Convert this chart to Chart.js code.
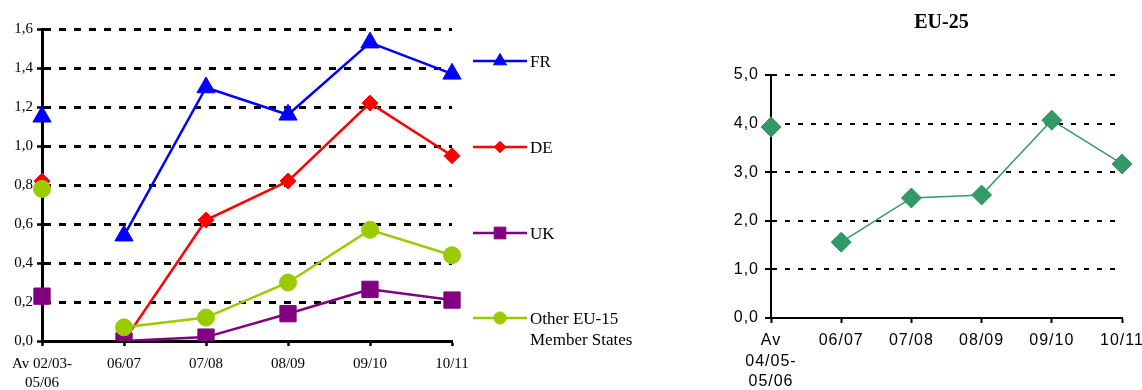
<!DOCTYPE html>
<html>
<head>
<meta charset="utf-8">
<script src="https://cdn.jsdelivr.net/npm/chart.js@4.4.0/dist/chart.umd.min.js"></script>
<style>
  html, body { margin: 0; padding: 0; background: #fff; overflow: hidden; width: 1142px; height: 390px; }
  #left  { position: absolute; left: 0;     top: 0; width: 660px; height: 390px; }
  #right { position: absolute; left: 700px; top: 0; width: 480px; height: 390px; }
</style>
</head>
<body>
<div id="left"><canvas id="byCountry"></canvas></div>
<div id="right"><canvas id="eu25"></canvas></div>
<script>
// Seasons shown on the country chart
const seasons = [['Av 02/03-', '05/06'], '06/07', '07/08', '08/09', '09/10', '10/11'];
// Series values per country (first value is the multi-season average)
const frValues    = [1.15, 0.54, 1.30, 1.16, 1.53, 1.37];
const deValues    = [0.82, 0.00, 0.62, 0.82, 1.22, 0.95];
const ukValues    = [0.23, 0.00, 0.02, 0.14, 0.265, 0.21];
const otherValues = [0.78, 0.07, 0.12, 0.30, 0.57, 0.44];
const seriesNames = ['FR', 'DE', 'UK', ['Other EU-15', 'Member States']];
const countryTickLabels = ['0,0', '0,2', '0,4', '0,6', '0,8', '1,0', '1,2', '1,4', '1,6'];

// EU-25 totals
const eu25Seasons = [['Av', '04/05-', '05/06'], '06/07', '07/08', '08/09', '09/10', '10/11'];
const eu25Values  = [3.93, 1.56, 2.47, 2.53, 4.07, 3.17];
const eu25TickLabels = ['0,0', '1,0', '2,0', '3,0', '4,0', '5,0'];
const eu25Title = 'EU-25';

const SERIF = '"Liberation Serif", "Times New Roman", serif';
const SANS  = '"Liberation Sans", Arial, sans-serif';

// the average point stands apart: no line into the first season
const skipFirst = { borderColor: ctx => ctx.p0DataIndex === 0 ? 'rgba(0,0,0,0)' : undefined };

function makeSeries(label, data, color, style, radius, width, order) {
  return {
    label, data, order,
    borderColor: color, backgroundColor: color,
    pointBackgroundColor: color, pointBorderColor: color,
    pointStyle: style, pointRadius: radius, pointBorderWidth: 1,
    borderWidth: width, tension: 0, segment: skipFirst
  };
}

function markPoint(ctx, style, radius, x, y) {
  if (window.Chart && Chart.helpers && Chart.helpers.drawPoint) {
    Chart.helpers.drawPoint(ctx, { pointStyle: style, radius, rotation: 0, borderWidth: 1 }, x, y);
    return;
  }
  ctx.beginPath();
  if (style === 'circle') ctx.arc(x, y, radius, 0, Math.PI * 2);
  else if (style === 'rect') { const s = radius * Math.SQRT1_2; ctx.rect(x - s, y - s, 2 * s, 2 * s); }
  else if (style === 'rectRot') { ctx.moveTo(x, y - radius); ctx.lineTo(x + radius, y); ctx.lineTo(x, y + radius); ctx.lineTo(x - radius, y); ctx.closePath(); }
  else { ctx.moveTo(x, y - radius); ctx.lineTo(x + radius * 0.866, y + radius / 2); ctx.lineTo(x - radius * 0.866, y + radius / 2); ctx.closePath(); }
  ctx.fill(); ctx.stroke();
}

// legend on the right of the plot, one row per series
const sideLegend = {
  id: 'sideLegend',
  afterDraw(chart) {
    const ctx = chart.ctx;
    const rowY = [61, 147, 233, 318];
    const lineFrom = 473, lineTo = 527, markX = 500, textX = 530;
    ctx.save();
    chart.data.datasets.forEach((ds, i) => {
      const y = rowY[i];
      ctx.strokeStyle = ds.borderColor;
      ctx.fillStyle = ds.borderColor;
      ctx.lineWidth = 2.5;
      ctx.beginPath(); ctx.moveTo(lineFrom, y); ctx.lineTo(lineTo, y); ctx.stroke();
      ctx.lineWidth = 1;
      markPoint(ctx, ds.pointStyle, ds.pointRadius * 0.72, markX, y);
      ctx.fillStyle = '#000';
      ctx.font = '17px ' + SERIF;
      ctx.textBaseline = 'middle';
      ctx.textAlign = 'left';
      const lines = Array.isArray(seriesNames[i]) ? seriesNames[i] : [seriesNames[i]];
      lines.forEach((t, k) => ctx.fillText(t, textX, y + 2 + k * 21));
    });
    ctx.restore();
  }
};

new Chart(document.getElementById('byCountry'), {
  type: 'line',
  data: {
    labels: seasons,
    datasets: [
      makeSeries(seriesNames[0], frValues, '#0000ff', 'triangle', 10.5, 2.5, 3),
      makeSeries(seriesNames[1], deValues, '#ff0000', 'rectRot', 8, 2.5, 2),
      makeSeries(seriesNames[2], ukValues, '#800080', 'rect', 11.5, 2.5, 1),
      makeSeries('Other EU-15 Member States', otherValues, '#99cc00', 'circle', 8.5, 2.5, 0)
    ]
  },
  options: {
    responsive: true, maintainAspectRatio: false, animation: false, events: [],
    layout: { padding: { left: 0, top: 29, right: 208, bottom: 0 } },
    plugins: { legend: { display: false }, tooltip: { enabled: false } },
    scales: {
      x: {
        offset: false,
        afterFit: s => { s.height = 49; },
        grid: { display: true, drawOnChartArea: false, drawTicks: true, tickLength: 5, tickColor: '#000', tickWidth: 2.5 },
        border: { display: true, color: '#000', width: 3 },
        ticks: { color: '#000', padding: 8, maxRotation: 0, autoSkip: false,
                 font: { family: SERIF, size: 15, lineHeight: 1.3 } }
      },
      y: {
        min: 0, max: 1.6,
        afterFit: s => { s.width = 42; },
        grid: { color: '#000', lineWidth: 3, drawTicks: true, tickLength: 5,
                tickColor: '#000', tickWidth: 2.5, tickBorderDash: [] },
        border: { display: true, color: '#000', width: 3, dash: [7, 8] },
        ticks: { stepSize: 0.2, color: '#000', padding: 4,
                 font: { family: SERIF, size: 15 },
                 callback: (v, i) => countryTickLabels[i] }
      }
    }
  },
  plugins: [sideLegend]
});

// EU-25 chart: sans labels with a little letter spacing, serif title
const spacedText = {
  id: 'spacedText',
  beforeLayout(chart) { chart.ctx.letterSpacing = '1px'; },
  beforeDraw(chart) { chart.ctx.letterSpacing = '1px'; },
  afterDraw(chart) {
    const ctx = chart.ctx;
    ctx.save();
    ctx.letterSpacing = '0px';
    ctx.font = 'bold 20px ' + SERIF;
    ctx.fillStyle = '#000';
    ctx.textAlign = 'center';
    ctx.textBaseline = 'alphabetic';
    ctx.fillText(eu25Title, (chart.chartArea.left + chart.chartArea.right) / 2 - 5, 28);
    ctx.restore();
  }
};

new Chart(document.getElementById('eu25'), {
  type: 'line',
  data: {
    labels: eu25Seasons,
    datasets: [makeSeries(eu25Title, eu25Values, '#339966', 'rectRot', 10, 1.5, 0)]
  },
  options: {
    responsive: true, maintainAspectRatio: false, animation: false, events: [],
    layout: { padding: { left: 0, top: 75, right: 58, bottom: 0 } },
    plugins: { legend: { display: false }, tooltip: { enabled: false } },
    scales: {
      x: {
        offset: false,
        afterFit: s => { s.height = 72; },
        grid: { display: true, drawOnChartArea: false, drawTicks: true, tickLength: 5, tickColor: '#000', tickWidth: 2 },
        border: { display: true, color: '#000', width: 2 },
        ticks: { color: '#000', padding: 7, maxRotation: 0, autoSkip: false,
                 font: { family: SANS, size: 16, lineHeight: 1.3 } }
      },
      y: {
        min: 0, max: 5,
        afterFit: s => { s.width = 71; },
        grid: { color: '#000', lineWidth: 2, drawTicks: true, tickLength: 6,
                tickColor: '#000', tickWidth: 2, tickBorderDash: [] },
        border: { display: true, color: '#000', width: 2, dash: [5, 8] },
        ticks: { stepSize: 1, color: '#000', padding: 6,
                 font: { family: SANS, size: 16 },
                 callback: (v, i) => eu25TickLabels[i] }
      }
    }
  },
  plugins: [spacedText]
});
</script>
</body>
</html>
